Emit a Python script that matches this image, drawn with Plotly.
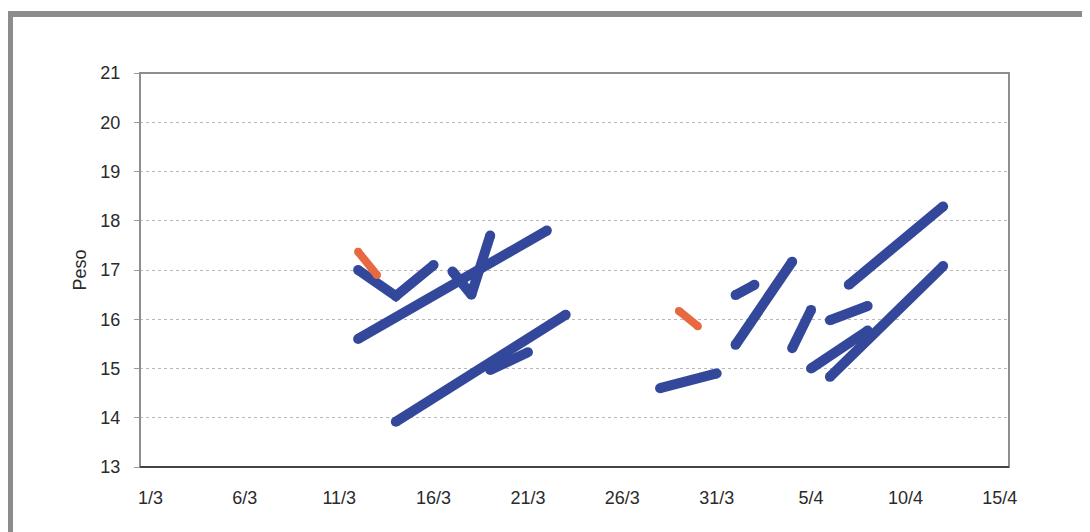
import plotly.graph_objects as go

# ---- data (dates as day/month of one season; weights "Peso") ----
tick_fechas = ["2009-03-01", "2009-03-06", "2009-03-11", "2009-03-16", "2009-03-21",
               "2009-03-26", "2009-03-31", "2009-04-05", "2009-04-10", "2009-04-15"]
tick_textos = ["1/3", "6/3", "11/3", "16/3", "21/3", "26/3", "31/3", "5/4", "10/4", "15/4"]

azul_01_fechas = ["2009-03-12", "2009-03-14", "2009-03-16"]
azul_01_peso = [17.0, 16.47, 17.1]
azul_02_fechas = ["2009-03-12", "2009-03-22"]
azul_02_peso = [15.6, 17.8]
azul_03_fechas = ["2009-03-17", "2009-03-18", "2009-03-19"]
azul_03_peso = [16.97, 16.5, 17.7]
azul_04_fechas = ["2009-03-14", "2009-03-23"]
azul_04_peso = [13.92, 16.09]
azul_05_fechas = ["2009-03-19", "2009-03-21"]
azul_05_peso = [14.97, 15.33]
azul_06_fechas = ["2009-03-28", "2009-03-31"]
azul_06_peso = [14.6, 14.9]
azul_07_fechas = ["2009-04-01", "2009-04-02"]
azul_07_peso = [16.49, 16.7]
azul_08_fechas = ["2009-04-01", "2009-04-04"]
azul_08_peso = [15.48, 17.17]
azul_09_fechas = ["2009-04-04", "2009-04-05"]
azul_09_peso = [15.41, 16.19]
azul_10_fechas = ["2009-04-06", "2009-04-08"]
azul_10_peso = [15.98, 16.27]
azul_11_fechas = ["2009-04-05", "2009-04-08"]
azul_11_peso = [15.0, 15.77]
azul_12_fechas = ["2009-04-06", "2009-04-12"]
azul_12_peso = [14.83, 17.08]
azul_13_fechas = ["2009-04-07", "2009-04-12"]
azul_13_peso = [16.7, 18.29]

naranja_01_fechas = ["2009-03-12", "2009-03-13"]
naranja_01_peso = [17.37, 16.9]
naranja_02_fechas = ["2009-03-29", "2009-03-30"]
naranja_02_peso = [16.17, 15.86]

series_azules = [
    (azul_01_fechas, azul_01_peso), (azul_02_fechas, azul_02_peso),
    (azul_03_fechas, azul_03_peso), (azul_04_fechas, azul_04_peso),
    (azul_05_fechas, azul_05_peso), (azul_06_fechas, azul_06_peso),
    (azul_07_fechas, azul_07_peso), (azul_08_fechas, azul_08_peso),
    (azul_09_fechas, azul_09_peso), (azul_10_fechas, azul_10_peso),
    (azul_11_fechas, azul_11_peso), (azul_12_fechas, azul_12_peso),
    (azul_13_fechas, azul_13_peso),
]
series_naranjas = [(naranja_01_fechas, naranja_01_peso), (naranja_02_fechas, naranja_02_peso)]

AZUL = "#33479b"
NARANJA = "#e8683f"

fig = go.Figure()
for f, p in series_azules:
    fig.add_trace(go.Scatter(x=f, y=p, mode="lines+markers",
                             line=dict(color=AZUL, width=10),
                             marker=dict(color=AZUL, size=10, line=dict(width=0)),
                             showlegend=False, hoverinfo="x+y"))
for f, p in series_naranjas:
    fig.add_trace(go.Scatter(x=f, y=p, mode="lines+markers",
                             line=dict(color=NARANJA, width=8),
                             marker=dict(color=NARANJA, size=8, line=dict(width=0)),
                             showlegend=False, hoverinfo="x+y"))

# the page body has an 8px margin, so the figure is sized to fill the rest
OFF = 8
W, H = 1090 - OFF, 532 - OFF
L, R, T, B = 140 - OFF, 81, 73 - OFF, 65
pw, ph = W - L - R, H - T - B

def px_x(x):
    return (x - OFF - L) / pw

def px_y(y):
    return (H + OFF - B - y) / ph

fig.update_layout(
    width=W, height=H,
    margin=dict(l=L, r=R, t=T, b=B),
    paper_bgcolor="white", plot_bgcolor="white",
    font=dict(family="Liberation Sans, Arial, sans-serif", size=18, color="#2a2a2a"),
    xaxis=dict(type="date",
               range=["2009-02-28 10:38", "2009-04-15 11:45"],
               tickmode="array", tickvals=tick_fechas, ticktext=tick_textos,
               showgrid=False, zeroline=False, showline=False, ticks="",
               ticklabelstandoff=18, tickfont=dict(size=18)),
    yaxis=dict(range=[13, 21], dtick=1, tick0=13,
               showgrid=True, gridcolor="#b8b8b8", gridwidth=1, griddash="dot",
               zeroline=False, showline=False,
               ticks="outside", ticklen=5, tickcolor="#9a9a9a", tickwidth=1,
               ticklabelstandoff=10, tickfont=dict(size=18),
               title=dict(text="Peso", font=dict(size=18), standoff=9)),
    shapes=[
        # outer frame
        dict(type="rect", xref="paper", yref="paper",
             x0=px_x(10), x1=px_x(1110), y0=px_y(560), y1=px_y(14),
             line=dict(color="#8c8c8c", width=6), fillcolor="rgba(0,0,0,0)", layer="below"),
        # plot area border
        dict(type="rect", xref="paper", yref="paper", x0=0, x1=1, y0=0, y1=1,
             line=dict(color="#8e8e8e", width=2), fillcolor="rgba(0,0,0,0)", layer="above"),
        # bottom axis line
        dict(type="line", xref="paper", yref="paper", x0=0, x1=1, y0=0, y1=0,
             line=dict(color="#444444", width=2), layer="above"),
    ],
)

fig.write_html("out.html")
